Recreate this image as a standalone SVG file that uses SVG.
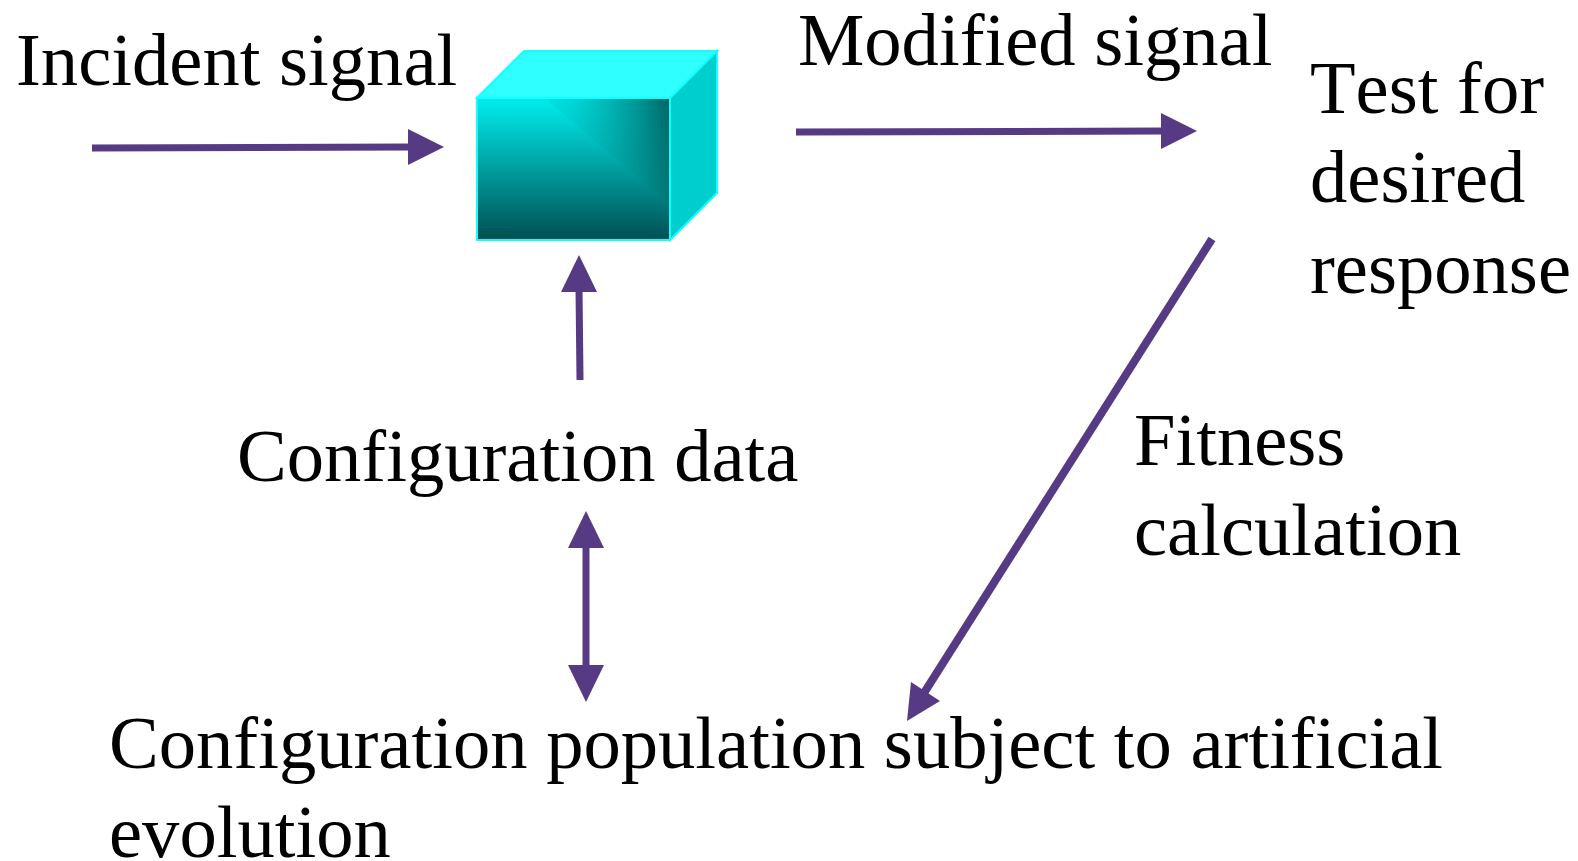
<svg xmlns="http://www.w3.org/2000/svg" width="1578" height="861" viewBox="0 0 1578 861">
<style>
text{font-family:"Liberation Serif","Times New Roman",serif;font-size:74.6px;fill:#000}
.c{fill:none;stroke:#563a83;stroke-width:7}
.h{fill:#563a83;stroke:none}
</style>
<defs>
<linearGradient id="g" x1="0" y1="0" x2="0" y2="1"><stop offset="0" stop-color="#00eded"/><stop offset="1" stop-color="#004f52"/></linearGradient>
<linearGradient id="s" gradientUnits="userSpaceOnUse" x1="540" y1="125" x2="670" y2="105"><stop offset="0" stop-color="#00c8c8" stop-opacity="0"/><stop offset="0.25" stop-color="#00c8c8" stop-opacity="0.55"/><stop offset="1" stop-color="#006666" stop-opacity="1"/></linearGradient>
</defs>
<rect width="1578" height="861" fill="#fff"/>
<g id="connectors">
<path class="c" d="M92 148L412 147"/><path class="h" d="M408 129L444 147L408 165Z"/>
<path class="c" d="M796 132L1165 131"/><path class="h" d="M1161 113L1197 131L1161 149Z"/>
<path class="c" d="M580 380L579 288"/><path class="h" d="M561 292L579 255L597 292Z"/>
<path class="c" d="M586 545V668"/><path class="h" d="M568 548L586 511L604 548Z"/><path class="h" d="M568 665L586 702L604 665Z"/>
<path class="c" style="stroke-width:8" d="M1212 239L924 693"/><path class="h" d="M911 682L907 721L940 701Z"/>
</g>
<g id="cube">
<path d="M477 98L524 51H717L670 98Z" fill="#2fffff" stroke="#1ff" stroke-width="2"/>
<path d="M670 98L717 51V193L670 240Z" fill="#00cdcd" stroke="#1ff" stroke-width="2"/>
<rect x="477" y="98" width="193" height="142" fill="url(#g)"/>
<path d="M545 98H670V205Z" fill="url(#s)"/>
<rect x="477" y="98" width="193" height="142" fill="none" stroke="#1ff" stroke-width="2"/>
</g>
<g id="incident-signal"><text x="16" y="85">Incident signal</text></g>
<g id="modified-signal"><text x="798" y="65">Modified signal</text></g>
<g id="test"><text x="1310" y="113" style="font-kerning:none">Test for</text><text x="1310" y="202">desired</text><text x="1310" y="293">response</text></g>
<g id="configuration-data"><text x="237" y="481">Configuration data</text></g>
<g id="fitness"><text x="1134" y="465">Fitness</text><text x="1134" y="555">calculation</text></g>
<g id="configuration-population"><text x="109" y="768">Configuration population subject to artificial</text><text x="109" y="857">evolution</text></g>
</svg>
